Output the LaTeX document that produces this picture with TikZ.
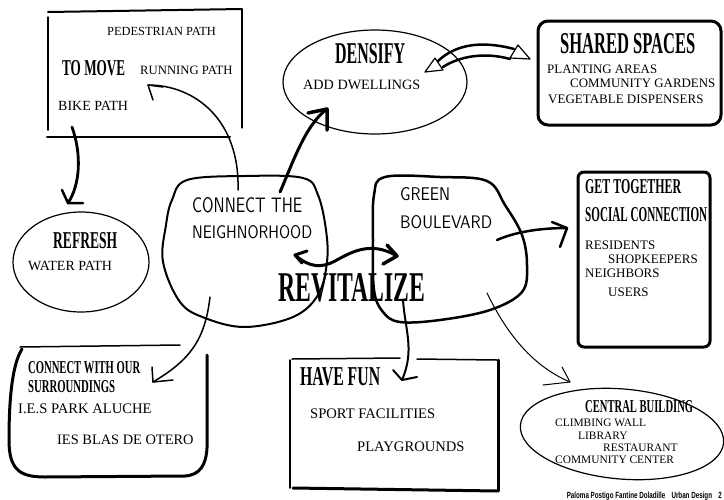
\documentclass[tikz,border=0pt]{standalone}
\usepackage{fontspec}
\setmainfont{Liberation Serif}
\newfontfamily\footfont{Liberation Sans}
\usepackage{graphicx}
\newcommand\hd[3]{\resizebox{#1pt}{#2pt}{\bfseries #3}}
\newcommand\hw[3]{\resizebox{#1pt}{#2pt}{\sffamily #3}}
\tikzset{
  txt/.style={anchor=base west, inner sep=0pt, font=\fontsize{#1}{#1}\selectfont},
  head/.style={anchor=base west, inner sep=0pt},
  thinln/.style={line width=1.2pt},
  midln/.style={line width=1.8pt},
  thickln/.style={line width=2.8pt},
}
\begin{document}
\begin{tikzpicture}[x=1pt,y=-1pt,line cap=round,line join=round]
\useasboundingbox (0,0) rectangle (724,499);

% ---------- TO MOVE box
\draw[line width=2pt] (48,12) -- (242,9);
\draw[line width=1.3pt] (242,9) -- (242,128);
\draw[line width=2pt] (47,137) -- (230,137);
\draw[line width=1.5pt] (48,17) -- (48,130);
\node[txt=12.4] (ped) at (107,35) {PEDESTRIAN PATH};
\node[head] (tomove) at (62,75) {\hd{63}{15}{TO MOVE}};
\node[txt=12.7] (run) at (140,74) {RUNNING PATH};
\node[txt=14] (bike) at (58,110) {BIKE PATH};

% ---------- REFRESH
\draw[thinln] (81,262) ellipse [x radius=68, y radius=50];
\node[head] (refresh) at (53,248) {\hd{64}{16}{REFRESH}};
\node[txt=14] (water) at (28,270) {WATER PATH};

% ---------- DENSIFY
\draw[thinln] (375,82) ellipse [x radius=92, y radius=52];
\node[head] (densify) at (335,63) {\hd{70}{20}{DENSIFY}};
\node[txt=14.2] (dwell) at (303,89) {ADD DWELLINGS};

% ---------- SHARED SPACES
\draw[line width=3pt, rounded corners=10pt] (538,21) rectangle (721,125);
\node[head] (shared) at (560,53) {\hd{135}{20}{SHARED SPACES}};
\node[txt=12.9] (plant) at (547,73) {PLANTING AREAS};
\node[txt=12.9] (garden) at (570,87) {COMMUNITY GARDENS};
\node[txt=13] (veg) at (548,103) {VEGETABLE DISPENSERS};

% ---------- CONNECT THE NEIGHNORHOOD blob
\draw[line width=2pt] plot[smooth cycle, tension=0.6] coordinates {
  (187,180) (245,176) (303,178) (318,195) (326,230) (327,262) (318,295)
  (293,317) (245,327) (205,318) (180,302) (163,262) (166,225) (172,200)};
\node[head] (ct) at (192,212) {\hw{110}{15}{CONNECT THE}};
\node[head] (nb) at (192,238) {\hw{120}{13}{NEIGHNORHOOD}};

% ---------- GREEN BOULEVARD blob
\draw[line width=2.5pt] plot[smooth cycle, tension=0.6] coordinates {
  (385,177) (440,177) (487,181) (505,205) (522,235) (527,265) (522,292)
  (490,310) (440,320) (400,322) (383,312) (374,290) (373,240) (374,195)};
\node[head] (green) at (400,200) {\hw{50}{13}{GREEN}};
\node[head] (boul) at (400,228) {\hw{92}{13}{BOULEVARD}};

% ---------- REVITALIZE
\node[head] (revit) at (278,301) {\hd{147}{28}{REVITALIZE}};

% ---------- GET TOGETHER
\draw[line width=3pt, rounded corners=6pt] (578,172) rectangle (710,347);
\node[head] (get) at (585,193) {\hd{96}{14}{GET TOGETHER}};
\node[head] (social) at (585,221) {\hd{122}{14}{SOCIAL CONNECTION}};
\node[txt=13] (res) at (585,249) {RESIDENTS};
\node[txt=13] (shop) at (608,263) {SHOPKEEPERS};
\node[txt=13] (neigh) at (585,277) {NEIGHBORS};
\node[txt=13] (users) at (608,296) {USERS};

% ---------- CENTRAL BUILDING
\draw[thinln, rotate around={-5:(622,434)}] (622,434) ellipse [x radius=102, y radius=45];
\node[head] (central) at (585,412) {\hd{108}{12}{CENTRAL BUILDING}};
\node[txt=11.4] (climb) at (555,426) {CLIMBING WALL};
\node[txt=11.4] (lib) at (578,439) {LIBRARY};
\node[txt=11.4] (rest) at (603,451) {RESTAURANT};
\node[txt=11.4] (comm) at (555,463) {COMMUNITY CENTER};

% ---------- HAVE FUN
\draw[line width=1.5pt] (292,359) -- (400,358);
\draw[line width=1.5pt] (417,359) -- (497,360);
\draw[line width=1.5pt] (290,360) -- (290,488);
\draw[line width=3pt] (293,488) -- (497,491);
\draw[line width=3pt] (498,360) -- (498,491);
\node[head] (fun) at (300,385) {\hd{80}{18}{HAVE FUN}};
\node[txt=14.6] (sport) at (310,418) {SPORT FACILITIES};
\node[txt=14.6] (play) at (357,451) {PLAYGROUNDS};

% ---------- CONNECT WITH OUR SURROUNDINGS
\draw[line width=1.5pt] (20,347) -- (180,345);
\draw[line width=3pt] (22,349) .. controls (12,365) and (9,400) .. (9,440)
  .. controls (9,470) and (20,477) .. (45,477) -- (185,476)
  .. controls (200,475) and (206,465) .. (207,448) -- (207,355);
\node[head] (cw) at (28,373) {\hd{112}{12}{CONNECT WITH OUR}};
\node[head] (sur) at (28,392) {\hd{87}{12}{SURROUNDINGS}};
\node[txt=14.6] (ies1) at (18,413) {I.E.S PARK ALUCHE};
\node[txt=14.4] (ies2) at (57,444) {IES BLAS DE OTERO};

% ---------- connectors (named end points)
\coordinate (a1s) at (238,190); \coordinate (a1e) at (148,85);
\draw[line width=1.5pt] (a1s) .. controls (240,120) and (195,85) .. (a1e);
\draw[line width=1.5pt] (163,87) -- (a1e) -- (153,100);

\coordinate (a2s) at (72,127); \coordinate (a2e) at (68,203);
\draw[thickln] (a2s) .. controls (82,155) and (80,185) .. (a2e);
\draw[line width=2.5pt] (62,190) -- (a2e) -- (83,203);

\coordinate (a3s) at (280,192); \coordinate (a3e) at (327,109);
\draw[line width=3pt] (a3s) .. controls (292,165) and (305,125) .. (a3e);
\draw[line width=3.5pt] (308,113) -- (a3e) -- (327,130);

\coordinate (a4s) at (295,255); \coordinate (a4e) at (397,256);
\draw[line width=3pt] (a4s) .. controls (310,268) and (322,268) .. (335,261)
  .. controls (350,253) and (370,240) .. (a4e);
\draw[line width=3pt] (307,251) -- (a4s) -- (302,263);
\draw[line width=3.5pt] (387,245) -- (a4e) -- (383,264);

% hollow double arrow DENSIFY <-> SHARED SPACES
\coordinate (h1) at (425,72); \coordinate (h2) at (530,59);
\draw[line width=1.2pt] (h1) -- (435,58) -- (443,70) -- cycle;
\draw[line width=1.2pt] (510,58) -- (518,45) -- (h2) -- cycle;
\draw[line width=2.5pt] (438,61) .. controls (455,45) and (480,40) .. (514,49);
\draw[line width=2.5pt] (443,67) .. controls (460,56) and (485,52) .. (510,59);

\coordinate (a5s) at (497,240); \coordinate (a5e) at (567,228);
\draw[line width=2.5pt] (a5s) .. controls (515,232) and (540,228) .. (a5e);
\draw[line width=2.5pt] (552,222) -- (a5e) -- (560,247);

\coordinate (a6s) at (487,293); \coordinate (a6e) at (570,382);
\draw[line width=1pt] (a6s) .. controls (505,330) and (530,365) .. (a6e);
\draw[line width=1pt] (562,367) -- (a6e) -- (543,385);

\coordinate (a7s) at (403,300); \coordinate (a7e) at (402,380);
\draw[line width=2pt] (a7s) .. controls (405,330) and (415,350) .. (a7e);
\draw[line width=2pt] (393,370) -- (a7e) -- (417,377);

\coordinate (a8s) at (210,297); \coordinate (a8e) at (153,382);
\draw[line width=1.5pt] (a8s) .. controls (205,340) and (190,360) .. (a8e);
\draw[line width=1.5pt] (152,367) -- (a8e) -- (173,380);

% ---------- footer
\node[anchor=base east, inner sep=0pt] (foot) at (722,498)
  {\resizebox{155pt}{6.5pt}{\footfont\bfseries Paloma Postigo Fantine Doladille\quad Urban Design\quad 2}};
\end{tikzpicture}
\end{document}
